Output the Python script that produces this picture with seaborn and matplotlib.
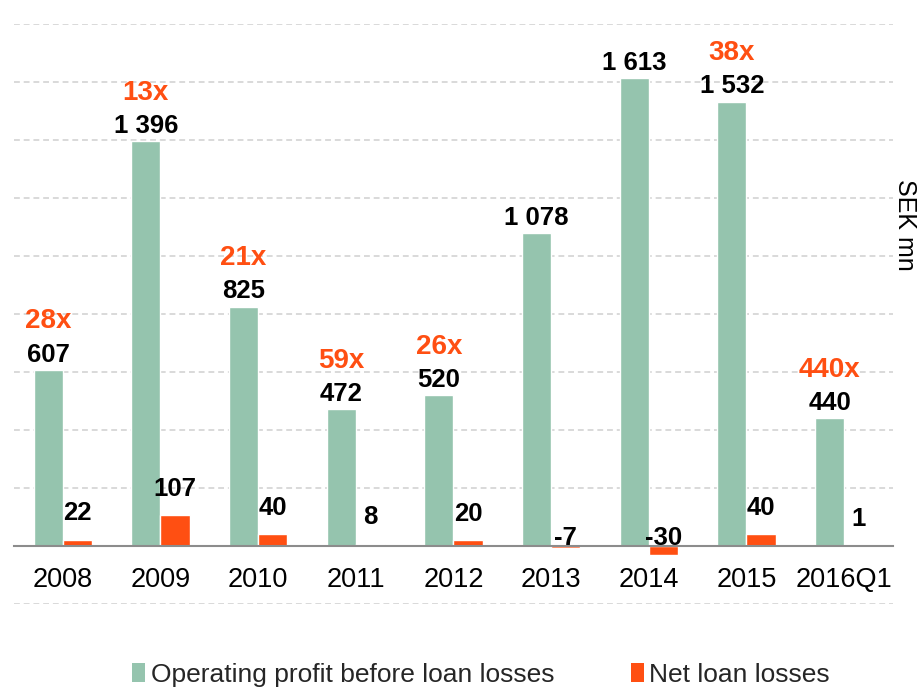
import matplotlib
matplotlib.use("Agg")
import matplotlib.pyplot as plt
from matplotlib.patches import Patch
from matplotlib.ticker import FixedLocator, MultipleLocator
import seaborn as sns
import pandas as pd

# Annual operating profit vs. net loan losses, SEK mn
periods = ["2008", "2009", "2010", "2011", "2012", "2013", "2014", "2015", "2016Q1"]
operating_profit = [607, 1396, 825, 472, 520, 1078, 1613, 1532, 440]
net_loan_losses = [22, 107, 40, 8, 20, -7, -30, 40, 1]

series_names = ["Operating profit before loan losses", "Net loan losses"]
GREEN = "#95C4AE"
ORANGE = "#FF4F12"

sns.set_theme(style="white")
plt.rcParams["font.family"] = ["Liberation Sans", "DejaVu Sans"]

df = pd.DataFrame({
    "period": periods * 2,
    "value": operating_profit + net_loan_losses,
    "series": [series_names[0]] * len(periods) + [series_names[1]] * len(periods),
})

fig = plt.figure(figsize=(9.2, 6.87), dpi=100)
ax = fig.add_axes([14 / 920, (687 - 604) / 687, (893 - 14) / 920, 580 / 687])

sns.barplot(data=df, x="period", y="value", hue="series", order=periods,
            hue_order=series_names, palette=[GREEN, ORANGE], width=0.6,
            errorbar=None, legend=False, ax=ax, saturation=1)

ax.set_ylim(-200, 1800)
ax.set_xlim(-0.5, len(periods) - 0.5)

# dashed horizontal grid every 200
ax.yaxis.set_major_locator(MultipleLocator(200))
ax.grid(axis="y", color="#D9D9D9", linestyle=(0, (3, 2)), linewidth=1.4)
ax.set_axisbelow(True)
ax.set_yticklabels([])
ax.tick_params(axis="y", length=0)

for side in ["top", "right", "left"]:
    ax.spines[side].set_visible(False)
ax.spines["bottom"].set_position(("data", 0))
ax.spines["bottom"].set_color("#8C8C8C")
ax.spines["bottom"].set_linewidth(1.5)
ax.spines["bottom"].set_zorder(5)

ax.xaxis.set_minor_locator(FixedLocator([i - 0.5 for i in range(len(periods) + 1)]))
ax.tick_params(axis="x", which="major", length=0, pad=15, labelsize=19.5, labelcolor="black")
ax.tick_params(axis="x", which="minor", length=8, width=1.5, color="#8C8C8C", direction="out")
ax.set_xlabel("")
ax.set_ylabel("")


def fmt(v):
    return f"{v:,}".replace(",", " ")


for i, (p, l) in enumerate(zip(operating_profit, net_loan_losses)):
    gx = i - 0.15
    lx = i + 0.15
    ax.annotate(fmt(p), (gx, p), xytext=(0, 11), textcoords="offset points",
                ha="center", va="center", fontsize=18.5, fontweight="bold", color="black")
    if l > 0:
        ax.annotate(f"{round(p / l)}x", (gx, p), xytext=(0, 35), textcoords="offset points",
                    ha="center", va="center", fontsize=20, fontweight="bold", color=ORANGE)
        ax.annotate(fmt(l), (lx, l), xytext=(0, 19), textcoords="offset points",
                    ha="center", va="center", fontsize=18.5, fontweight="bold", color="black")
    else:
        ax.annotate(fmt(l), (lx, 0), xytext=(0, 6), textcoords="offset points",
                    ha="center", va="center", fontsize=18.5, fontweight="bold", color="black")

fig.text(905 / 920, 1 - 225 / 687, "SEK mn", rotation=270, ha="center", va="center",
         fontsize=18, color="black")

handles = [Patch(facecolor=GREEN, edgecolor="none"), Patch(facecolor=ORANGE, edgecolor="none")]
fig.legend(handles, series_names, loc="center", bbox_to_anchor=(481 / 920, 1 - 675 / 687),
           ncol=2, frameon=False, fontsize=19, handlelength=0.5, handleheight=0.75,
           handletextpad=0.2, columnspacing=2.9)

fig.savefig("out.png", dpi=100)
